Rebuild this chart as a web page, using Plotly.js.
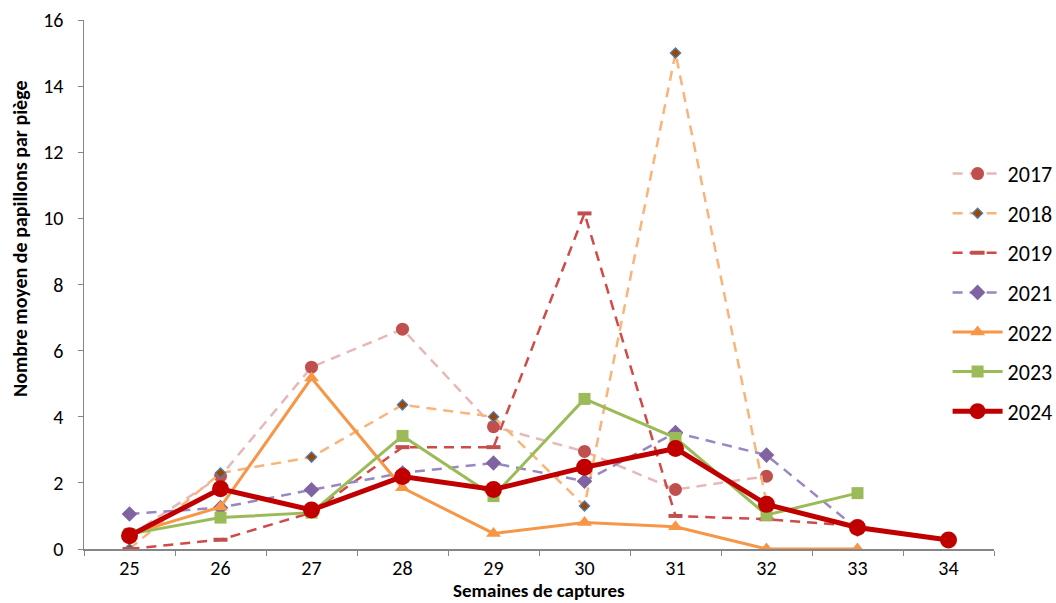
<!DOCTYPE html>
<html>
<head>
<meta charset="utf-8">
<script src="https://cdn.plot.ly/plotly-3.0.1.min.js"></script>
<style>html,body{margin:0;padding:0;background:#fff;}#chart{width:1056px;height:603px;}</style>
</head>
<body>
<div id="chart"></div>
<script>
const weeks = ['25','26','27','28','29','30','31','32','33','34'];
const y2017 = [0.4, 2.2, 5.5, 6.65, 3.7, 2.95, 1.8, 2.2, null, null];
const y2018 = [0, 2.3, 2.78, 4.36, 4.0, 1.3, 15.0, 1.4, null, null];
const y2019 = [0, 0.28, 1.1, 3.08, 3.08, 10.15, 1.0, 0.9, 0.7, null];
const y2021 = [1.06, 1.25, 1.79, 2.3, 2.6, 2.05, 3.52, 2.84, 0.6, null];
const y2022 = [0.45, 1.27, 5.17, 1.85, 0.47, 0.8, 0.67, 0, 0, null];
const y2023 = [0.45, 0.95, 1.1, 3.42, 1.6, 4.54, 3.36, 1.03, 1.69, null];
const y2024 = [0.4, 1.82, 1.18, 2.19, 1.8, 2.47, 3.04, 1.35, 0.65, 0.27];
const yTickVals = [0,2,4,6,8,10,12,14,16];
const xTitle = 'Semaines de captures';
const yTitle = 'Nombre moyen de papillons par piège';

const FONT = 'Carlito, Lato, "Liberation Sans", sans-serif';

function tr(name, y, line, marker, grp) {
  return {x: weeks, y: y, name: name, type: 'scatter', mode: 'lines+markers',
    line: line, marker: marker, legendgroup: grp, connectgaps: false};
}
const data = [
  tr('2017', y2017, {color:'#E6B9B8', width:2.5, dash:'10px,7px'}, {symbol:'circle', size:13, color:'#C0504D'}, 'a'),
  tr('2018', y2018, {color:'#F9B47A', width:2.5, dash:'10px,7px'}, {symbol:'diamond', size:8, color:'#984807', line:{color:'#4F81BD', width:1.2}}, 'b'),
  tr('2019', y2019, {color:'#D04A48', width:2.5, dash:'10px,7px'}, {symbol:'line-ew', size:10, color:'#C0504D', line:{color:'#C0504D', width:4}}, 'c'),
  tr('2021', y2021, {color:'#9A86C0', width:2.5, dash:'10px,7px'}, {symbol:'diamond', size:12, color:'#8064A2'}, 'd'),
  tr('2022', y2022, {color:'#F79646', width:3}, {symbol:'triangle-up', size:13, color:'#F79646'}, 'e'),
  tr('2023', y2023, {color:'#9BBB59', width:3}, {symbol:'square', size:12, color:'#9BBB59'}, 'f'),
  tr('2024', y2024, {color:'#C00000', width:5}, {symbol:'circle', size:17, color:'#C00000'}, 'g')
];

const layout = {
  width: 1056, height: 603,
  margin: {l: 84, r: 62, t: 20, b: 54, autoexpand: false},
  paper_bgcolor: '#fff', plot_bgcolor: '#fff',
  font: {family: FONT, size: 20, color: '#000'},
  showlegend: true,
  legend: {x: 0.949, xanchor: 'left', y: 0.749, yanchor: 'top', font: {size: 22, color: '#000'},
    tracegroupgap: 8, itemwidth: 50, bgcolor: 'rgba(0,0,0,0)'},
  xaxis: {type: 'category', tickson: 'boundaries', ticks: 'outside', ticklen: 5, tickcolor: '#868686',
    showline: true, linecolor: '#868686', linewidth: 1.5, showgrid: false, zeroline: false,
    tickfont: {size: 20}, range: [-0.5, 9.5], automargin: false},
  yaxis: {range: [0, 16], tickvals: yTickVals, ticks: 'outside', ticklen: 5, tickcolor: '#868686',
    showline: true, linecolor: '#868686', linewidth: 1.5, showgrid: false, zeroline: false,
    tickfont: {size: 20}, ticklabelstandoff: 10, automargin: false},
  annotations: [
    {text: '<b>' + yTitle + '</b>', textangle: -90, xref: 'paper', yref: 'paper',
      x: -0.0703, y: 0.586, xanchor: 'center', yanchor: 'middle', showarrow: false,
      font: {size: 20, family: FONT, color: '#000'}},
    {text: '<b>' + xTitle + '</b>', xref: 'paper', yref: 'paper',
      x: 0.5, y: -0.079, xanchor: 'center', yanchor: 'middle', showarrow: false,
      font: {size: 19, family: FONT, color: '#000'}}
  ]
};
Plotly.newPlot('chart', data, layout, {displayModeBar: false, staticPlot: true});
</script>
</body>
</html>
